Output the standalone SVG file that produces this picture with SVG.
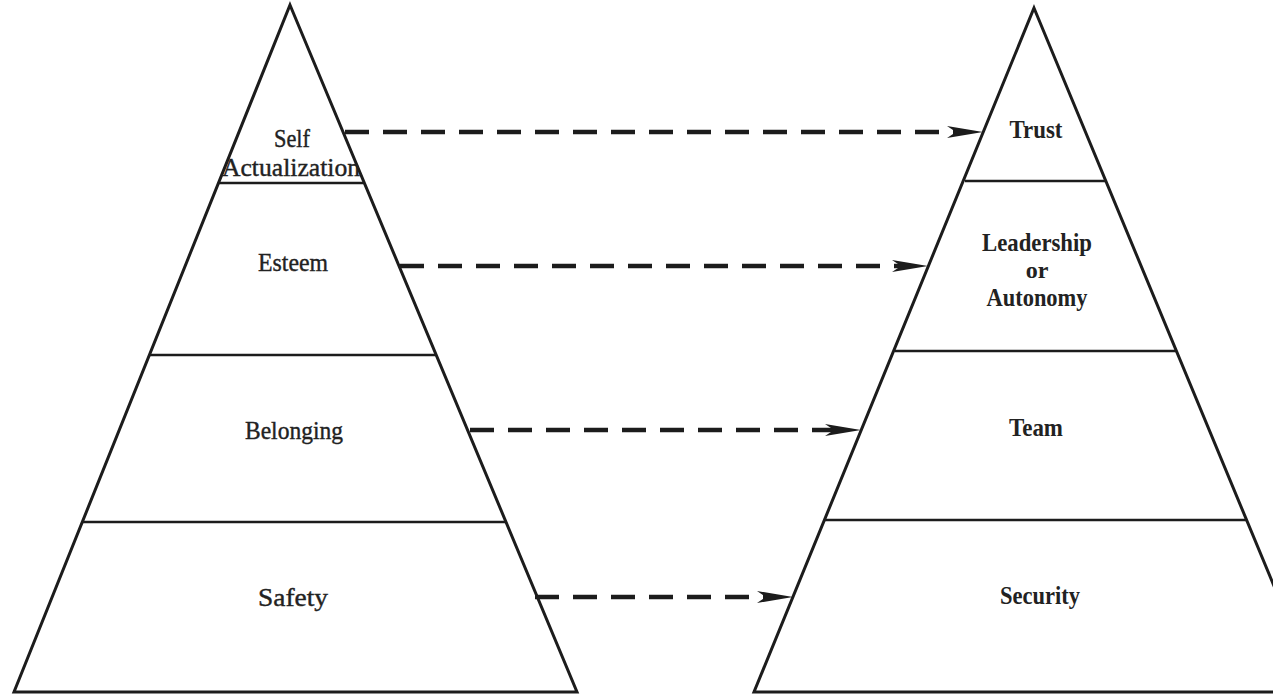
<svg xmlns="http://www.w3.org/2000/svg" width="1273" height="696" viewBox="0 0 1273 696">
<style>
.tri{fill:#fff;stroke:#1c1c1c;stroke-width:3;stroke-linejoin:miter}
.lvl{stroke:#1c1c1c;stroke-width:2.5}
.lbl{font-family:"Liberation Serif","Times New Roman",serif;font-size:26px;fill:#222;text-anchor:middle}
.r{stroke:#222;stroke-width:0.4}
.b{font-weight:bold}
.s{font-size:25px}
.con{stroke:#1c1c1c;stroke-width:4.5;stroke-dasharray:24 14;fill:none}
</style>
<defs>
<marker id="ah" viewBox="0 0 36 12" refX="9" refY="6" markerWidth="36" markerHeight="12" markerUnits="userSpaceOnUse" orient="auto">
<path d="M0,0 L36,6 L0,12 L9,6 Z" fill="#1c1c1c" stroke="none"/>
</marker>
</defs>
<rect width="1273" height="696" fill="#fff"/>
<g id="maslow">
<polygon class="tri" points="290,5 577,692 14,692"/>
<line class="lvl" x1="218" y1="183" x2="364" y2="183"/>
<line class="lvl" x1="149" y1="355" x2="436" y2="355"/>
<line class="lvl" x1="82" y1="522" x2="506" y2="522"/>
</g>
<g id="team">
<polygon class="tri" points="1034,8 1318,692 754,692"/>
<line class="lvl" x1="965" y1="181" x2="1106" y2="181"/>
<line class="lvl" x1="895" y1="351" x2="1176" y2="351"/>
<line class="lvl" x1="825" y1="520" x2="1246" y2="520"/>
</g>
<g id="n-self"><text class="lbl r" x="292" y="147" textLength="36" lengthAdjust="spacingAndGlyphs">Self</text><text class="lbl r" x="291" y="176" textLength="138" lengthAdjust="spacingAndGlyphs">Actualization</text></g>
<g id="n-esteem"><text class="lbl r" x="293" y="271" textLength="70" lengthAdjust="spacingAndGlyphs">Esteem</text></g>
<g id="n-belonging"><text class="lbl r" x="294" y="439" textLength="98" lengthAdjust="spacingAndGlyphs">Belonging</text></g>
<g id="n-safety"><text class="lbl r" x="293" y="606" textLength="70" lengthAdjust="spacingAndGlyphs">Safety</text></g>
<g id="n-trust"><text class="lbl b" x="1036" y="138" textLength="53" lengthAdjust="spacingAndGlyphs">Trust</text></g>
<g id="n-leadership"><text class="lbl b s" x="1037" y="251" textLength="110" lengthAdjust="spacingAndGlyphs">Leadership</text><text class="lbl b" x="1037" y="278" style="font-size:24px">or</text><text class="lbl b s" x="1037" y="306" textLength="101" lengthAdjust="spacingAndGlyphs">Autonomy</text></g>
<g id="n-team"><text class="lbl b" x="1036" y="436" textLength="54" lengthAdjust="spacingAndGlyphs">Team</text></g>
<g id="n-security"><text class="lbl b" x="1040" y="604" textLength="80" lengthAdjust="spacingAndGlyphs">Security</text></g>
<g id="connectors">
<line class="con" x1="345" y1="132" x2="956" y2="132" marker-end="url(#ah)"/>
<line class="con" x1="400" y1="266" x2="901" y2="266" marker-end="url(#ah)"/>
<line class="con" x1="470" y1="430" x2="834" y2="430" marker-end="url(#ah)"/>
<line class="con" x1="535" y1="597" x2="766" y2="597" marker-end="url(#ah)"/>
</g>
</svg>
